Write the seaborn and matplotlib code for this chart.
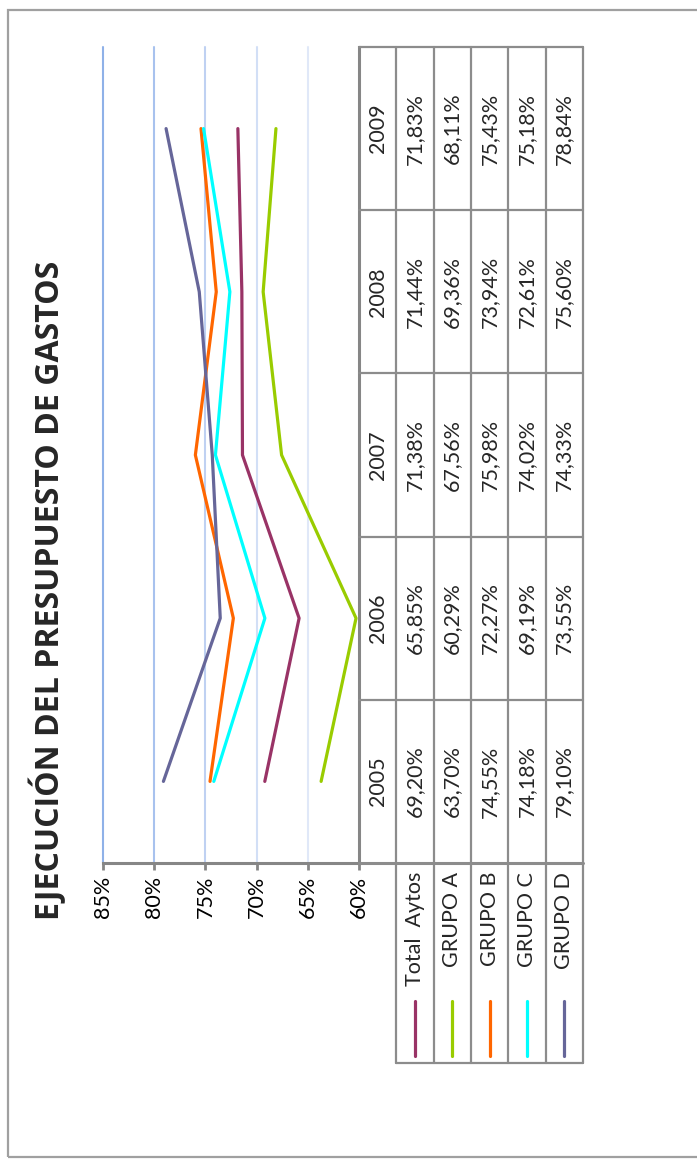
import matplotlib
matplotlib.use("Agg")
import matplotlib.pyplot as plt
import pandas as pd
import seaborn as sns
from matplotlib.patches import Rectangle

# data
years = [2005, 2006, 2007, 2008, 2009]
series_names = ["Total  Aytos", "GRUPO A", "GRUPO B", "GRUPO C", "GRUPO D"]
total_aytos = [69.20, 65.85, 71.38, 71.44, 71.83]
grupo_a = [63.70, 60.29, 67.56, 69.36, 68.11]
grupo_b = [74.55, 72.27, 75.98, 73.94, 75.43]
grupo_c = [74.18, 69.19, 74.02, 72.61, 75.18]
grupo_d = [79.10, 73.55, 74.33, 75.60, 78.84]
series_colors = ["#993366", "#99cc00", "#ff6600", "#00ffff", "#666699"]
x_ticks = [60, 65, 70, 75, 80, 85]
title = "EJECUCIÓN DEL PRESUPUESTO DE GASTOS"

grid_colors = {85: "#8fb1e8", 80: "#a8c2ee", 75: "#bfd1f2", 70: "#d2dff6", 65: "#e0e8f8"}
line_gray = "#8c8c8c"

sns.set_theme(style="white")
plt.rcParams["font.family"] = ["Lato", "DejaVu Sans"]

W, H = 697, 1162
fig = plt.figure(figsize=(W / 100, H / 100), dpi=100)


def px_axes(x0, y0, x1, y1):
    return fig.add_axes([x0 / W, 1 - y1 / H, (x1 - x0) / W, (y1 - y0) / H])


# outer frame (right edge runs off the page)
fig.patches.append(Rectangle((8 / W, 1 - 1157 / H), 1.2, (1157 - 10) / H,
                             transform=fig.transFigure, fill=False,
                             edgecolor="#a0a0a0", linewidth=1.6))

values = [total_aytos, grupo_a, grupo_b, grupo_c, grupo_d]
df = pd.DataFrame(
    [(name, yr, v) for name, vals in zip(series_names, values) for yr, v in zip(years, vals)],
    columns=["serie", "year", "value"],
)
palette = dict(zip(series_names, series_colors))

# rotated line chart: value on x (inverted), year on y
ax = px_axes(103, 47, 359, 863)
sns.lineplot(data=df, x="value", y="year", hue="serie", palette=palette,
             orient="y", linewidth=2.3, legend=False, ax=ax, sort=True)
ax.set_xlim(85, 60)
ax.set_ylim(years[0] - 0.5, years[-1] + 0.5)
ax.set_xticks(x_ticks)
ax.set_xticklabels([f"{t}%" for t in x_ticks], rotation=90, fontsize=15.5)
ax.set_yticks([])
ax.set_xlabel("")
ax.set_ylabel("")
for t in x_ticks:
    if t in grid_colors:
        ax.axvline(t, color=grid_colors[t], linewidth=1.5, zorder=0, clip_on=False)
for side in ["top", "left"]:
    ax.spines[side].set_visible(False)
for side in ["bottom", "right"]:
    ax.spines[side].set_color("#868686")
    ax.spines[side].set_linewidth(2.2)
ax.tick_params(axis="x", bottom=True, direction="out", length=5, width=2,
               color="#868686", pad=4, labelcolor="black")
ax.patch.set_alpha(0)

# data table + legend, drawn in cell units
cell_px = (863 - 47) / len(years)
leg_units = (1063 - 863) / cell_px
y_top = years[-1] + 0.5
y_mid = years[0] - 0.5
y_bot = y_mid - leg_units
n_cols = len(series_names) + 1

tab = px_axes(359, 47, 583, 1063)
tab.set_xlim(0, n_cols)
tab.set_ylim(y_bot, y_top)
tab.axis("off")

for c in range(1, n_cols + 1):
    tab.plot([c, c], [y_bot, y_top], color=line_gray, lw=1.6, clip_on=False)
for i in range(len(years) + 1):
    yy = y_mid + i
    tab.plot([0, n_cols], [yy, yy], color=line_gray, lw=1.6 if i else 2.2, clip_on=False)
tab.plot([1, n_cols], [y_bot, y_bot], color=line_gray, lw=1.6, clip_on=False)

for yr in years:
    tab.text(0.5, yr, str(yr), rotation=90, ha="center", va="center", fontsize=15.5)
    for c, vals in enumerate(values, start=1):
        v = vals[years.index(yr)]
        tab.text(c + 0.5, yr, f"{v:.2f}".replace(".", ",") + "%", rotation=90,
                 ha="center", va="center", fontsize=15.5)

for c, (name, col) in enumerate(zip(series_names, series_colors), start=1):
    tab.text(c + 0.5, y_mid - 0.055, name, rotation=90, ha="center", va="top", fontsize=15.5)
    tab.plot([c + 0.5, c + 0.5], [y_bot + 0.04, y_bot + 0.38], color=col, lw=2.3,
             solid_capstyle="round", clip_on=False)

fig.text(48 / W, 1 - 590 / H, title, rotation=90, ha="center", va="center",
         fontsize=23, fontweight="bold", family=["Open Sans", "DejaVu Sans"])

fig.savefig("out.png", dpi=100)
